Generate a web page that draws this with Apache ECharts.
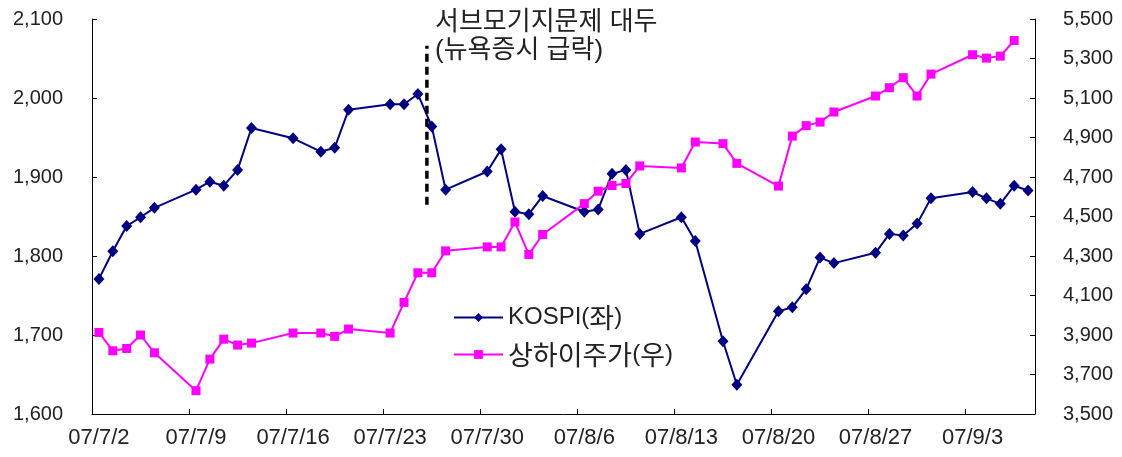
<!DOCTYPE html>
<html>
<head>
<meta charset="utf-8">
<script src="https://cdn.jsdelivr.net/npm/echarts@6/dist/echarts.min.js"></script>
<style>
html,body{margin:0;padding:0;background:#fff}
#main{width:1122px;height:457px}
</style>
</head>
<body>
<div id="main"></div>
<script>
var FONT = '"Liberation Sans", "Noto Sans CJK KR", sans-serif';
var KFONT = '"Noto Sans CJK KR", sans-serif';

// axis: every calendar day 07/7/2 ~ 07/9/7
var days = [];
for (var d = new Date(2007, 6, 2); d <= new Date(2007, 8, 7); d.setDate(d.getDate() + 1)) {
  days.push('07/' + (d.getMonth() + 1) + '/' + d.getDate());
}

// trading days
var tradeDays = ['07/7/2','07/7/3','07/7/4','07/7/5','07/7/6','07/7/9','07/7/10','07/7/11','07/7/12','07/7/13',
  '07/7/16','07/7/18','07/7/19','07/7/20','07/7/23','07/7/24','07/7/25','07/7/26','07/7/27','07/7/30',
  '07/7/31','07/8/1','07/8/2','07/8/3','07/8/6','07/8/7','07/8/8','07/8/9','07/8/10','07/8/13',
  '07/8/14','07/8/16','07/8/17','07/8/20','07/8/21','07/8/22','07/8/23','07/8/24','07/8/27','07/8/28',
  '07/8/29','07/8/30','07/8/31','07/9/3','07/9/4','07/9/5','07/9/6','07/9/7'];

var kospi = [1771,1806,1838,1849,1861,1884,1894,1889,1909,1962,
  1949,1932,1937,1985,1992,1992,2005,1964,1884,1907,
  1935,1856,1853,1876,1856,1859,1904,1909,1828,1849,
  1819,1692,1637,1730,1735,1758,1798,1791,1804,1828,
  1826,1841,1873,1881,1873,1866,1889,1883];

var shanghai = [3913,3820,3832,3900,3810,3618,3778,3879,3849,3859,
  3910,3910,3893,3930,3910,4065,4215,4215,4326,4346,
  4346,4472,4308,4409,4565,4628,4657,4667,4756,4746,
  4877,4869,4769,4654,4907,4960,4978,5029,5110,5152,
  5203,5110,5221,5319,5302,5312,5391,null];

var leftTicks = {min: 1600, max: 2100, step: 100};
var rightTicks = {min: 3500, max: 5500, step: 200};

// 서브모기지 이벤트 표시선 (day index, KOSPI 범위)
var eventDay = 23.65;
var eventRange = [1865, 2066];
var eventText = '서브모기지문제 대두\n(뉴욕증시 급락)';

function pairs(vals) {
  var out = [];
  for (var i = 0; i < tradeDays.length; i++) {
    if (vals[i] != null) out.push([tradeDays[i], vals[i]]);
  }
  return out;
}

// 한글은 조금 크게
function richName(name) {
  return name.replace(/([\uAC00-\uD7A3]+)|([^\uAC00-\uD7A3]+)/g, function (m, k, l) {
    return k ? '{k|' + k + '}' : '{l|' + l + '}';
  });
}

var axisLineStyle = {show: true, onZero: false, lineStyle: {color: '#000', width: 1}};
var tickStyle = {show: true, inside: true, length: 5, lineStyle: {color: '#000'}};
var fmt = function (v) { return v.toLocaleString('en-US'); };

var chart = echarts.init(document.getElementById('main'), null, {renderer: 'canvas'});
chart.setOption({
  animation: false,
  backgroundColor: '#fff',
  textStyle: {fontFamily: FONT},
  grid: {left: 92, right: 87, top: 19, bottom: 43, containLabel: false, outerBoundsMode: 'none'},
  legend: {
    orient: 'vertical',
    left: 445, top: 294,
    padding: [10, 33, 10, 8],
    backgroundColor: '#fff',
    itemWidth: 49, itemHeight: 11, itemGap: 10,
    formatter: richName,
    textStyle: {
      color: '#222', fontFamily: FONT,
      rich: {
        l: {fontSize: 24, color: '#222', fontFamily: FONT, lineHeight: 27},
        k: {fontSize: 27, color: '#222', fontFamily: KFONT, lineHeight: 27}
      }
    },
    data: ['KOSPI(좌)', '상하이주가(우)']
  },
  graphic: [{
    type: 'text', left: 435, top: 9,
    style: {text: eventText, font: '26px ' + FONT, lineHeight: 28, fill: '#222'}
  }],
  xAxis: [{
    type: 'category',
    data: days,
    boundaryGap: true,
    axisLine: axisLineStyle,
    axisTick: {show: true, inside: true, length: 5, interval: 6, lineStyle: {color: '#000'}},
    axisLabel: {interval: 6, fontSize: 22, color: '#222', margin: 13, fontFamily: FONT},
    splitLine: {show: false}
  }, {
    type: 'value', show: false, min: -0.5, max: days.length - 0.5
  }],
  yAxis: [{
    type: 'value', position: 'left',
    min: leftTicks.min, max: leftTicks.max, interval: leftTicks.step,
    axisLine: axisLineStyle, axisTick: tickStyle, splitLine: {show: false},
    axisLabel: {fontSize: 20, color: '#222', margin: 29, formatter: fmt, fontFamily: FONT}
  }, {
    type: 'value', position: 'right',
    min: rightTicks.min, max: rightTicks.max, interval: rightTicks.step,
    axisLine: axisLineStyle, axisTick: tickStyle, splitLine: {show: false},
    axisLabel: {fontSize: 20, color: '#222', margin: 28, formatter: fmt, fontFamily: FONT}
  }],
  series: [{
    name: 'KOSPI(좌)', type: 'line',
    xAxisIndex: 0, yAxisIndex: 0,
    data: pairs(kospi),
    color: '#000080',
    lineStyle: {width: 2, color: '#000080'},
    symbol: 'diamond', symbolSize: [11, 12], showAllSymbol: true,
    itemStyle: {color: '#000080'}
  }, {
    name: '상하이주가(우)', type: 'line',
    xAxisIndex: 0, yAxisIndex: 1,
    data: pairs(shanghai),
    color: '#ff00ff',
    lineStyle: {width: 2, color: '#ff00ff'},
    symbol: 'rect', symbolSize: 9, showAllSymbol: true,
    itemStyle: {color: '#ff00ff'}
  }, {
    name: 'event', type: 'line',
    xAxisIndex: 1, yAxisIndex: 0,
    data: [[eventDay, eventRange[0]], [eventDay, eventRange[1]]],
    symbol: 'none', silent: true,
    lineStyle: {color: '#000', width: 3.5, type: [8, 5]},
    z: 5
  }]
});
</script>
</body>
</html>
